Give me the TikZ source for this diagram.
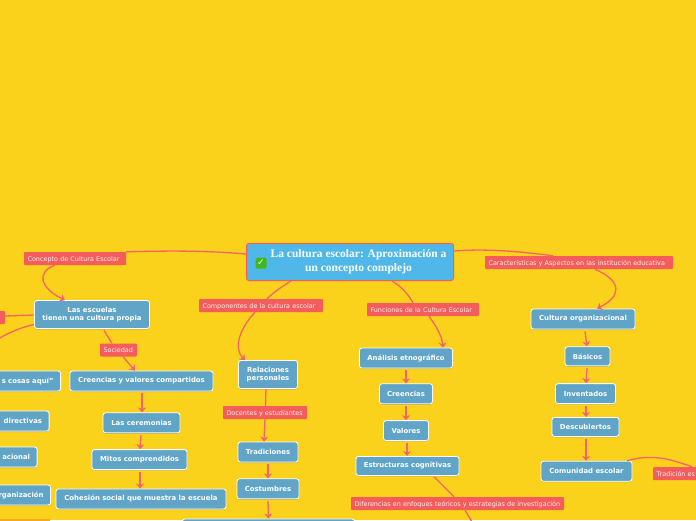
\documentclass[tikz,border=0pt]{standalone}
\usepackage{fontspec}
\setmainfont{DejaVu Sans}
\newfontfamily\titlefont{Liberation Serif}
\usetikzlibrary{positioning, arrows.meta, shadows}
\definecolor{YellowBg}{HTML}{FAD11B}
\definecolor{BlueNode}{HTML}{60A5C8}
\definecolor{BlueRoot}{HTML}{50B8E8}
\definecolor{RedLabel}{HTML}{F55D5D}
\definecolor{PinkLine}{HTML}{F7636B}
\definecolor{GreenCheck}{HTML}{3FB81E}
\definecolor{OrangeStrip}{HTML}{F9A825}

\begin{document}
\begin{tikzpicture}[
    x=1pt, y=-1pt,
    node distance=16pt,
    boxnode/.style={rectangle, rounded corners=2.5pt, draw=white, fill=BlueNode, line width=0.8pt, text=white,
        font=\fontsize{6.9}{8.6}\selectfont\bfseries, align=center, inner xsep=4pt, inner ysep=2pt, minimum height=20pt,
        drop shadow={shadow xshift=0pt, shadow yshift=-1pt, fill=black!45, opacity=0.45}},
    cutnode/.style={boxnode, anchor=east, text width=80pt, align=right, inner xsep=7pt},
    rootnode/.style={rectangle, rounded corners=2.5pt, draw=RedLabel, fill=BlueRoot, line width=1pt, text=white,
        font=\fontsize{11.5}{13.6}\selectfont\titlefont\bfseries, align=center, minimum width=207pt, minimum height=37pt},
    tagnode/.style={rectangle, rounded corners=0.8pt, fill=RedLabel, text=white!92!RedLabel,
        font=\fontsize{6.45}{7}\selectfont, inner xsep=3.5pt, inner ysep=0pt, minimum height=13pt,
        minimum width=#1, text width=#1-7pt, text height=5pt, text depth=0pt, align=left},
    arrow/.style={->, >={Stealth[width=8pt, length=5pt]}, line width=1.3pt, color=PinkLine},
    link/.style={line width=1.3pt, color=PinkLine}
]
    \useasboundingbox (0,0) rectangle (696,520);
    \clip (0,0) rectangle (696,520);
    \fill[YellowBg] (0,0) rectangle (696,520);

    % centre
    \node (Root) [rootnode, at={(350,262)}] {};
    \node (RootTitle) [font=\fontsize{11.5}{13.6}\selectfont\titlefont\bfseries, text=white, align=center, inner sep=0pt, at={(358.5,262)}] {La cultura escolar: Aproximación a\\un concepto complejo};
    \node (Check) [rectangle, rounded corners=1.5pt, fill=GreenCheck, minimum size=11pt, inner sep=0pt, text=white, font=\fontsize{9}{9}\selectfont, at={(261,263)}] {✓};

    % left branch
    \node (Concepto) [tagnode=102pt, at={(75,258.5)}] {Concepto de Cultura Escolar};
    \node (Escuelas) [boxnode, minimum width=115pt, minimum height=28pt, at={(92,314.5)}] {Las escuelas\\tienen una cultura propia};
    \node (TagLeft) [tagnode=12pt, at={(-1,317.5)}] {};
    \coordinate (OffLeft) at (-2,339);
    \node (Sociedad) [tagnode=37pt, at={(118.5,350)}] {Sociedad};
    \node (Creencias) [boxnode, minimum width=143pt, at={(141.5,381)}] {Creencias y valores compartidos};
    \node (Ceremonias) [boxnode, minimum width=77pt, below=21pt of Creencias] {Las ceremonias};
    \node (Mitos) [boxnode, minimum width=95pt, below=16pt of Ceremonias, xshift=-2pt] {Mitos comprendidos};
    \node (Cohesion) [boxnode, minimum width=170pt, below=18.5pt of Mitos, xshift=1.5pt] {Cohesión social que muestra la escuela};
    \node (Cosas) [cutnode, at={(61,381)}] {s cosas aquí”};
    \node (Directivas) [cutnode, at={(49.5,421)}] {directivas};
    \node (Relacional) [cutnode, at={(37.5,457)}] {acional};
    \node (Organizacion) [cutnode, at={(51,495)}] {rganización};
    \node (Strip) [rectangle, fill=OrangeStrip, inner sep=0pt, minimum width=60pt, minimum height=6pt, anchor=north east, at={(50,519)}] {};

    % middle branch
    \node (Componentes) [tagnode=124pt, at={(261,305.5)}] {Componentes de la cultura escolar};
    \node (Relaciones) [boxnode, minimum width=59pt, minimum height=28pt, at={(268,374.5)}] {Relaciones\\personales};
    \node (Docentes) [tagnode=84pt, at={(265,412.5)}] {Docentes y estudiantes};
    \node (Tradiciones) [boxnode, minimum width=60pt, at={(268,452)}] {Tradiciones};
    \node (Costumbres) [boxnode, minimum width=62pt, below=16pt of Tradiciones] {Costumbres};
    \node (Ultimo) [boxnode, minimum width=172pt, anchor=north, at={(268.5,518.5)}] {};

    % right of middle
    \node (Funciones) [tagnode=112pt, at={(423,309.5)}] {Funciones de la Cultura Escolar};
    \node (Analisis) [boxnode, minimum width=93pt, at={(406,358)}] {Análisis etnográfico};
    \node (CreenciasDos) [boxnode, minimum width=53pt, below=15pt of Analisis] {Creencias};
    \node (Valores) [boxnode, minimum width=45pt, below=16pt of CreenciasDos] {Valores};
    \node (Estructuras) [boxnode, minimum width=103pt, minimum height=19pt, below=15pt of Valores, xshift=1.5pt] {Estructuras cognitivas};
    \node (Diferencias) [tagnode=213pt, at={(457.5,503.5)}] {Diferencias en enfoques teóricos y estrategias de investigación};
    \coordinate (OffBottom) at (472,522);

    % right branch
    \node (Caracteristicas) [tagnode=188pt, at={(579,262.5)}] {Características y Aspectos en las institución educativa};
    \node (CulturaOrg) [boxnode, minimum width=104pt, at={(583,319)}] {Cultura organizacional};
    \node (Basicos) [boxnode, minimum width=45pt, minimum height=19pt, below=17pt of CulturaOrg, xshift=4.5pt] {Básicos};
    \node (Inventados) [boxnode, minimum width=60pt, below=17pt of Basicos, xshift=-2pt] {Inventados};
    \node (Descubiertos) [boxnode, minimum width=67pt, minimum height=19pt, below=13pt of Inventados] {Descubiertos};
    \node (Comunidad) [boxnode, minimum width=91pt, below=24pt of Descubiertos, xshift=1pt] {Comunidad escolar};
    \node (Tradicion) [tagnode=60pt, anchor=west, at={(653,473.5)}] {Tradición es};

    % connectors
    \draw[link] (Root.west |- 246,254) .. controls (200,250) and (160,251) .. (Concepto.north east);
    \draw[arrow] (Concepto.south -| 55,0) .. controls (36,272) and (40,288) .. (Escuelas.north -| 65,0);
    \draw[link] (TagLeft.east |- 0,316) -- (Escuelas.west |- 0,315);
    \draw[link] (Escuelas.west |- 0,324.5) .. controls (22,327) and (10,332) .. (OffLeft);
    \draw[link] (Escuelas.south -| 104,0) ++(0,1.5) -- (Sociedad.north -| 112,0);
    \draw[arrow] (Sociedad.south -| 123,0) -- (Creencias.north -| 135,0);
    \draw[arrow] (Creencias.south -| 142,0) ++(0,2) -- (Ceremonias.north -| 142,0);
    \draw[arrow] (Ceremonias.south -| 141,0) ++(0,2) -- (Mitos.north -| 140,0);
    \draw[arrow] (Mitos.south -| 140,0) ++(0,2) -- (Cohesion.north -| 140,0);

    \draw[link] (Root.south -| 291,0) .. controls (283,286) and (275,291) .. (Componentes.north -| 267,0);
    \draw[arrow] (Componentes.south -| 255,0) .. controls (240,328) and (233,348) .. (Relaciones.north -| 245,0);
    \draw[link] (Relaciones.south -| 266,0) -- (Docentes.north -| 265.5,0);
    \draw[arrow] (Docentes.south -| 265,0) -- (Tradiciones.north -| 264,0);
    \draw[arrow] (Tradiciones.south -| 268,0) ++(0,2) -- (Costumbres.north -| 268,0);
    \draw[arrow] (Costumbres.south -| 268,0) ++(0,2) -- (Ultimo.north);

    \draw[link] (Root.south -| 392,0) .. controls (402,287) and (408,294) .. (Funciones.north -| 413,0);
    \draw[arrow] (Funciones.south -| 429,0) .. controls (436,326) and (442,336) .. (Analisis.north -| 443,0);
    \draw[arrow] (Analisis.south -| 406,0) ++(0,2) -- (CreenciasDos.north);
    \draw[arrow] (CreenciasDos.south -| 406,0) ++(0,2) -- (Valores.north);
    \draw[arrow] (Valores.south -| 407,0) ++(0,2) -- (Estructuras.north -| 407,0);
    \draw[link] (Estructuras.south -| 434,0) ++(0,1) -- (Diferencias.north -| 454,0);
    \draw[link] (Diferencias.south -| 465,0) -- (OffBottom);

    \draw[link] (Root.east |- 454,251) .. controls (480,249) and (510,250) .. (Caracteristicas.north -| 553,0);
    \draw[arrow] (Caracteristicas.south -| 595,0) .. controls (622,281) and (622,296) .. (CulturaOrg.north -| 597,0);
    \draw[arrow] (CulturaOrg.south -| 585,0) ++(0,2) -- (Basicos.north -| 587,0);
    \draw[arrow] (Basicos.south -| 587,0) ++(0,2) -- (Inventados.north -| 586,0);
    \draw[arrow] (Inventados.south -| 586,0) ++(0,2) -- (Descubiertos.north -| 586,0);
    \draw[arrow] (Descubiertos.south -| 586,0) ++(0,2) -- (Comunidad.north -| 586,0);
    \draw[link] (Comunidad.north -| 627,0) .. controls (650,454) and (668,458) .. (Tradicion.north -| 692,0);
\end{tikzpicture}
\end{document}
